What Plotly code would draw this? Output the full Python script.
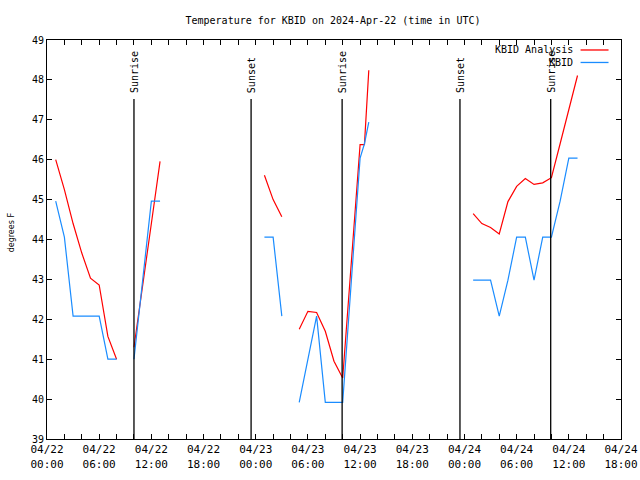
import pandas as pd
import plotly.graph_objects as go

base = pd.Timestamp("2024-04-22 00:00")

# hours after 2024-04-22 00:00 UTC (None rows break the lines)
hours = [1, 2, 3, 4, 5, 6, 7, 8, 9,
         10, 11, 12, 13, 14,
         25, 26, 27, 28,
         29, 30, 31, 32, 33, 34, 35, 36, 36.5, 37, 38,
         49, 50, 51, 52, 53, 54, 55, 56, 57, 58, 59, 60, 61]

analysis = [46.0, 45.25, 44.4, 43.66, 43.03, 42.86, 41.57, 41.0, None,
            41.3, 42.8, 44.4, 45.96, None,
            45.61, 45.0, 44.57, None,
            41.75, 42.2, 42.17, 41.7, 40.95, 40.53, 43.45, 46.38, 46.38, 48.24, None,
            44.65, 44.4, 44.3, 44.14, 44.95, 45.33, 45.53, 45.38, 45.42, 45.55, 46.4, 47.25, 48.11]

observed = [44.96, 44.06, 42.08, 42.08, 42.08, 42.08, 41.0, 41.0, None,
            41.0, 42.98, 44.96, 44.96, None,
            44.06, 44.06, 42.08, None,
            39.92, 41.0, 42.08, 39.92, 39.92, 39.92, 42.98, 46.04, 46.4, 46.94, None,
            42.98, 42.98, 42.98, 42.08, 42.98, 44.06, 44.06, 42.98, 44.06, 44.06, 44.96, 46.04, 46.04]

sun_events = ["Sunrise", "Sunset", "Sunrise", "Sunset", "Sunrise"]
sun_times = ["2024-04-22 10:00", "2024-04-22 23:28", "2024-04-23 09:56",
             "2024-04-23 23:29", "2024-04-24 09:55"]

series_names = ["KBID Analysis", "KBID"]
series_colors = ["#ff0000", "#1a8cff"]

x_range = ["2024-04-22 00:00", "2024-04-24 18:00"]
y_range = [39, 49]

times = [base + pd.Timedelta(hours=h) for h in hours]

mono = "DejaVu Sans Mono"

fig = go.Figure()
for name, vals, col in zip(series_names, [analysis, observed], series_colors):
    fig.add_trace(go.Scatter(x=times, y=vals, mode="lines", name=name,
                             line=dict(color=col, width=1.2),
                             connectgaps=False, showlegend=False))

shapes = []
annotations = []
for ev, t in zip(sun_events, sun_times):
    shapes.append(dict(type="line", xref="x", yref="y", x0=t, x1=t,
                       y0=y_range[0], y1=47.52,
                       line=dict(color="black", width=1.3)))
    annotations.append(dict(x=t, y=47.62, xref="x", yref="y", text=ev,
                            textangle=-90, showarrow=False,
                            xanchor="center", yanchor="bottom",
                            font=dict(family=mono, size=10, color="black")))

# legend (text followed by line sample, gnuplot style)
W, H = 575.0, 399.5
def px(xp):
    return (xp - 46.5) / W
def py(yp):
    return (439.5 - yp) / H

for i, (name, col) in enumerate(zip(series_names, series_colors)):
    yy = 50 + 12.5 * i
    annotations.append(dict(x=px(575), y=py(yy), xref="paper", yref="paper",
                            text=name, showarrow=False, xanchor="right",
                            yanchor="middle",
                            font=dict(family=mono, size=10, color="black")))
    shapes.append(dict(type="line", xref="paper", yref="paper",
                       x0=px(581), x1=px(609), y0=py(yy), y1=py(yy),
                       line=dict(color=col, width=1.3)))

annotations.append(dict(x=px(10.5), y=py(232.5), xref="paper", yref="paper",
                        text="degrees F", textangle=-90, showarrow=False,
                        xanchor="center", yanchor="middle",
                        font=dict(family="DejaVu Sans", size=8, color="black")))

fig.update_layout(
    width=640, height=480,
    margin=dict(l=46.5, r=18.5, t=40, b=40.5, autoexpand=False),
    paper_bgcolor="white", plot_bgcolor="white",
    title=dict(text="Temperature for KBID on 2024-Apr-22 (time in UTC)",
               x=px(333), xref="paper", xanchor="center",
               y=1 - 20 / 480, yanchor="middle",
               font=dict(family=mono, size=10, color="black")),
    shapes=shapes, annotations=annotations,
    showlegend=False,
)

fig.update_xaxes(type="date", range=x_range, tick0="2024-04-22",
                 dtick=6 * 3600 * 1000, tickformat="%m/%d<br>%H:%M",
                 ticks="inside", ticklen=5, tickcolor="black",
                 minor=dict(dtick=2 * 3600 * 1000, ticks="inside", ticklen=5,
                            tickcolor="black", showgrid=False),
                 showgrid=False, zeroline=False, automargin=False,
                 showline=True, linecolor="black", linewidth=1, mirror="ticks",
                 tickfont=dict(family=mono, size=11, color="black"))
fig.update_yaxes(range=y_range, dtick=1, ticks="inside", ticklen=5,
                 tickcolor="black", showgrid=False, zeroline=False,
                 automargin=False,
                 showline=True, linecolor="black", linewidth=1, mirror="ticks",
                 tickfont=dict(family=mono, size=10, color="black"))

fig.write_html("out.html")
